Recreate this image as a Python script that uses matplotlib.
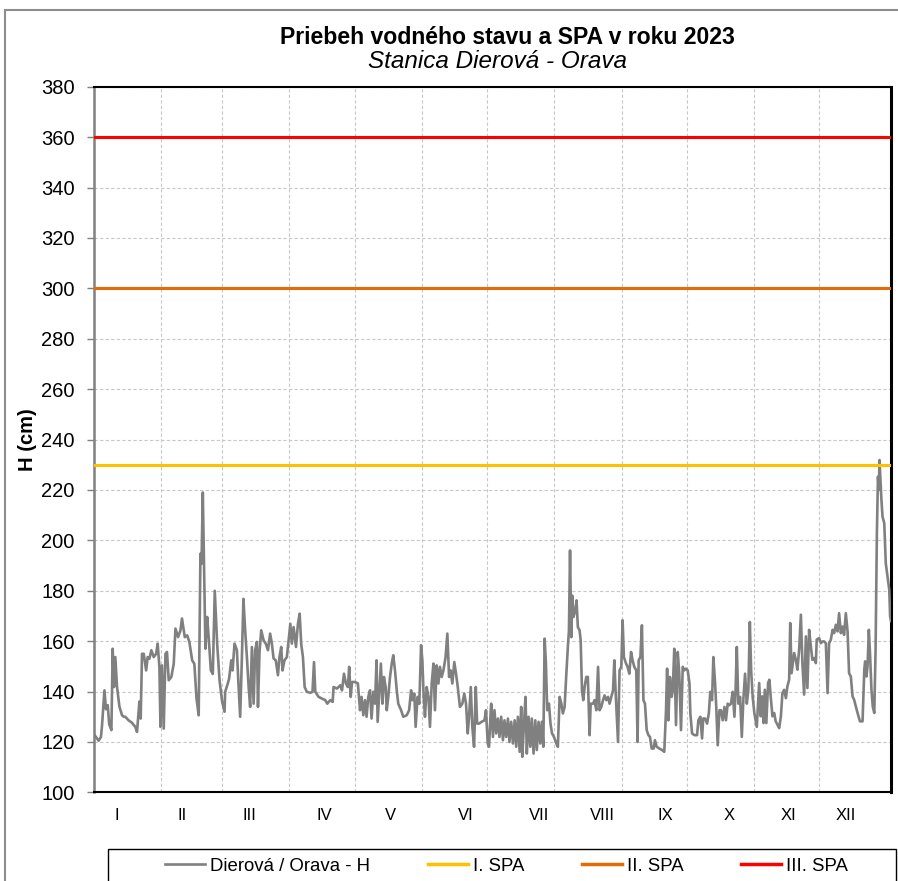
import matplotlib
matplotlib.use("Agg")
import matplotlib.pyplot as plt
from matplotlib.patches import Rectangle
from matplotlib.lines import Line2D

plt.rcParams['font.family'] = ['Liberation Sans', 'DejaVu Sans']

# day of year 2023 (0 = 1 Jan) and water level H (cm)
days = [
    0.3, 2.1, 3.2, 3.7, 4.8, 5.5, 6.3, 7.0, 8.0, 8.6, 9.2, 9.8, 10.6, 11.7, 12.9, 13.7, 14.4, 15.9, 17.5, 19.0,
    19.8, 20.9, 21.5, 22.1, 22.9, 24.0, 24.7, 25.5, 26.4, 27.5, 28.6, 29.3, 30.1, 30.6, 31.3, 32.1, 32.9, 33.6,
    34.4, 35.6, 36.7, 37.5, 38.7, 39.8, 40.5, 41.8, 42.9, 43.9, 45.2, 46.2, 47.2, 48.2, 49.0, 49.5, 50.1, 50.7,
    51.3, 52.1, 52.8, 53.8, 54.7, 55.6, 56.7, 57.8, 59.0, 60.1,
    60.4, 61.6, 62.2, 63.2, 63.8, 64.7, 65.8, 66.5, 67.3, 68.1, 68.8, 69.6, 70.4, 71.2, 71.9, 72.7, 73.5, 74.2,
    75.0, 75.5, 76.2, 77.0, 78.1, 79.1, 80.1, 81.1, 81.9, 82.7, 83.7, 84.7, 85.4, 86.2, 86.8, 87.7, 88.8, 89.6,
    90.4, 91.1, 91.9, 93.0, 93.9, 94.7, 95.4, 96.2, 97.0, 98.0, 99.6, 100.6, 101.3, 101.9, 103.4, 105.0, 106.5,
    107.4, 108.8, 109.9, 110.3, 111.9, 113.4, 114.2, 115.1, 116.0, 116.9, 117.5, 118.2, 118.8, 120.3, 121.5,
    122.5, 123.2, 124.0, 124.8, 125.5, 126.3, 127.1, 127.8, 128.6, 129.4, 130.1, 130.6, 131.4, 132.1, 132.8,
    133.5, 134.3, 134.8, 135.5, 136.3, 137.1, 137.8, 138.6, 139.4, 140.1, 141.4, 142.4, 144.0, 145.1, 146.0,
    146.7, 147.5, 148.1, 149.0, 149.8, 150.6, 151.2, 151.8, 152.4, 153.2, 154.0, 154.7, 155.5, 156.3, 157.0,
    157.8, 158.6, 159.3, 160.1, 160.9, 161.9, 162.7, 163.5, 164.2, 165.0, 165.9, 166.7, 167.5, 168.5, 169.6,
    170.5, 171.3, 172.1, 172.7, 173.5, 174.2, 175.0, 175.8, 176.4, 177.3, 178.5, 179.8, 180.5, 181.3, 181.9,
    182.7,
    182.9, 183.7, 184.4, 185.2, 186.0, 186.7, 187.5, 188.3, 189.0, 189.8, 190.6, 191.3, 192.1, 192.9, 193.7,
    194.4, 195.2, 196.0, 196.7, 197.2, 198.0, 198.7, 199.3, 200.1, 200.9, 201.6, 202.4, 203.2, 203.9, 204.7,
    205.5, 206.2, 206.9, 207.5, 208.1, 208.7, 209.5, 210.2, 210.9, 211.8, 212.9, 213.6, 214.4, 215.2, 215.9,
    216.7, 217.5, 218.2, 218.7, 219.2, 219.8, 220.2, 220.8, 221.6, 222.2, 222.8, 223.6, 224.1, 224.7, 225.3,
    225.9, 226.7, 227.4, 228.2, 228.7, 229.8, 230.5, 231.3, 232.1, 232.8, 233.6, 234.4, 235.1, 235.9, 236.7,
    237.4, 238.2, 239.0, 239.6, 240.3, 241.3, 242.0, 242.8, 243.4, 244.0,
    245.0, 245.7, 246.5, 247.3, 248.0, 248.8, 249.7, 250.3, 250.8, 251.6, 252.3, 253.0, 253.7, 254.5, 255.3,
    256.0, 256.8, 257.7, 258.3, 259.1, 260.3, 261.6, 262.6, 263.4, 263.9, 264.5, 265.2, 266.0, 266.5, 267.2,
    268.0, 268.8, 269.5, 270.3, 271.1, 271.8, 272.6, 273.4, 274.2, 274.6, 275.4, 276.5, 277.7, 278.3, 279.2,
    280.0, 280.5, 281.4, 282.3, 283.1, 283.8, 284.6, 285.2, 286.0, 286.6, 287.2, 288.0, 288.7, 289.5, 290.3,
    291.0, 291.8, 292.6, 293.3, 294.1, 294.9, 295.4, 296.0, 296.7, 297.5, 298.3, 299.0, 299.8, 300.6, 301.3,
    302.0, 302.6, 303.3, 304.1, 305.2,
    306.3, 307.0, 307.7, 308.3, 308.9, 309.6, 310.4, 311.0, 311.6, 312.4, 313.2, 313.9, 314.7, 315.5, 316.3,
    317.0, 317.8, 318.6, 319.3, 320.1, 320.6, 321.2, 321.8, 322.4, 323.2, 323.9, 324.7, 325.5, 326.2, 327.0,
    327.8, 328.5, 329.3, 330.1, 330.8, 331.6, 332.4, 332.8, 333.9, 334.7, 335.5, 336.2, 337.0, 337.8, 338.5,
    339.3, 340.1, 340.8, 341.6, 342.4, 343.1, 343.9, 344.7, 345.4, 346.2, 347.0, 347.7, 348.5, 349.3, 350.0,
    350.8, 351.6, 352.7, 353.9, 354.7, 355.1, 355.7, 356.2, 356.8, 357.4, 358.0, 358.6, 359.3, 359.9, 360.5,
    361.0, 361.4, 361.7, 362.2, 362.6, 363.1, 363.9, 364.6, 365.4, 366.2, 366.6, 367.0,
]
level = [
    122.7, 120.5, 122, 126.7, 140.5, 133, 134.6, 127, 124.7, 157, 141.8, 153.7, 141.8, 134, 130.6, 130, 130,
    128.6, 127.6, 126, 124, 136, 129.3, 155, 155, 148.4, 153.7, 153, 156.4, 153.7, 155, 159, 149.8, 126, 150.4,
    125.3, 155, 155.7, 144.5, 145.8, 151, 165, 161.6, 164.3, 169, 161.6, 162.3, 159.7, 152.4, 151, 137.2,
    130.6, 194.7, 190.7, 219, 188, 157, 169.6, 161.6, 148.4, 147, 180, 159, 144.5, 136, 132,
    139.9, 143.2, 145.1, 152.4, 148.4, 159, 156.4, 143.2, 130, 153.7, 176.8, 164.3, 153.7, 141.8, 133.9,
    157.7, 135.2, 156.4, 159.7, 133.9, 155.7, 164.3, 160.3, 159, 156.4, 163, 159, 153.1, 152.4, 146.5, 153.7,
    157.7, 148.4, 152.4, 153.7, 160.3, 166.9, 159, 165.6, 157.7, 166.9, 170.9, 159, 153.7, 141.8, 139.9,
    139.5, 139.9, 151.7, 139.9, 137.9, 137.2, 136.6, 135.2, 136.6, 135.9, 141.8, 141.2, 142.5, 140.5, 147.1,
    143.2, 141.8, 149.8, 137.9, 143.8, 143.8, 143.2,
    132.6, 137.9, 130.6, 136.6, 130, 137.9, 140.5, 129.3, 139.9, 135.2, 152.4, 128, 140.5, 151.1, 135.2,
    145.8, 141.8, 132.6, 137.9, 145.8, 151.1, 154.4, 148.4, 140.5, 135.2, 132.6, 130, 130.6, 132.6, 140.5,
    136.6, 139.2, 126, 137.9, 135.2, 158.4, 152.4, 137.9, 130, 141.8, 137.9, 126, 143.2, 151.1, 132.6,
    150.4, 143.2, 149.8, 145.8, 148.4, 153.7, 163, 145.8, 148.4, 143.2, 151.7, 147.1, 141.8, 133.9, 135.2,
    139.2, 135.2, 123.4, 130, 141.8, 126, 118.1, 141.8, 127.3, 127.3, 128, 128.6, 132.6, 119.4, 118.1,
    132.6,
    135.2, 122, 132.6, 123.4, 129.3, 122, 130, 120.7, 128.6, 122, 129.3, 120, 128, 119.4, 128.6,
    118.1, 130, 116.1, 133.9, 114.1, 127.3, 137.9, 115.4, 130, 118.1, 129.3, 115.4, 128.6, 116.8, 128,
    119.4, 128, 118.1, 161, 151.1, 132.6, 135.2, 127.3, 123.4, 122, 119.4, 118.1, 137.9, 135.2, 131.3,
    133.9, 147.1, 157.7, 164.3, 196, 161.6, 178.1, 169.6, 172.2, 176.2, 165.6, 164.3, 160.3, 140.5, 136.6,
    141.8, 145.8, 145.8, 122.7, 135.2, 135.2, 136.6, 132.6, 149.8, 132.6, 133.9, 136.6, 138.5, 136.6, 137.9,
    135.2, 137.9, 140.5, 152.4, 137.9, 120, 148.4, 149.8, 168.3, 153.7,
    151.1, 149.8, 147.1, 155.7, 152.4, 149.8, 148.4, 120, 152.4, 153.7, 166.3, 136.6, 135.2, 124.7, 122.7,
    122, 117.4, 117.4, 120.7, 118.1, 117.4, 116.8, 116.1, 132.6, 149.1, 128.6, 145.8, 137.9, 140.5, 157,
    126.7, 155.7, 147.1, 124.7, 149.8, 148.4, 149.1, 148.4, 143.2, 131.3, 123.4, 122.7, 122.7, 128.6, 130,
    121.4, 129.3, 129.3, 127.3, 131.3, 139.9, 136.6, 153.7, 143.2, 132.6, 118.7, 132.6, 132.6, 128.6, 133.9,
    128.6, 135.2, 134.6, 135.2, 139.9, 130, 139.9, 157.7, 135.2, 137.9, 122, 136.6, 147.1, 135.2, 140.5,
    167.6, 148.4, 137.9, 131.3, 126,
    143.4, 130.2, 138.1, 127.5, 140.7, 127.5, 143.4, 144.7, 138.1, 130.2, 131.5, 128.2, 126.9, 125.5, 130.2,
    139.4, 140.7, 137.4, 142.1, 144.7, 167.2, 147.3, 151.3, 155.3, 152.6, 148.7, 156.6, 170.5, 151.3, 138.8,
    161.9, 141.4, 164.5, 157.9, 152.6, 153.3, 151.3, 160.6, 161.2, 159.2, 159.9, 159.9, 159.2, 139.4, 159.2,
    160.6, 164.5, 163.2, 166.5, 163.9, 171.1, 163.2, 165.8, 162.5, 171.1, 163.9, 147.3, 146, 138.1, 136.8,
    134.1, 131.5, 128.2, 128.2, 148.7, 152, 146, 150, 164.5, 153.9, 140.7, 134.1, 131.5, 156.6, 202.8,
    225.3, 220, 231.9, 222.6, 216, 209.4, 206.8, 190.9, 185.7, 180.4, 169.8, 168,
]

spa_levels = [230, 300, 360]
spa_names = ["I. SPA", "II. SPA", "III. SPA"]
spa_colors = ["#FFC000", "#E36C09", "#FF0000"]

month_starts = [31, 59, 90, 120, 151, 181, 212, 243, 273, 304, 334]
month_names = ["I", "II", "III", "IV", "V", "VI", "VII", "VIII", "IX", "X", "XI", "XII"]
month_label_pos = [10.4, 40.4, 71.6, 105.9, 136.3, 171.3, 204.9, 233.9, 262.9, 292.4, 319.6, 346.3]

fig = plt.figure(figsize=(8.98, 8.81), dpi=100)
ax = fig.add_axes([0.1047, 0.1006, 0.8875, 0.8009])

ax.plot(days, level, color="#808080", lw=1.9, zorder=3)
for lev, col in zip(spa_levels, spa_colors):
    ax.axhline(lev, color=col, lw=2.2, zorder=4)

ax.set_xlim(0, 367)
ax.set_ylim(100, 380)
ax.set_yticks(range(100, 381, 20))
ax.set_xticks(month_label_pos)
ax.set_xticklabels(month_names)
ax.set_xticks(month_starts, minor=True)
ax.tick_params(axis="x", which="both", length=0, pad=11, labelsize=12)
ax.tick_params(axis="y", length=5, color="#808080", width=1, labelsize=14.5, pad=9)
ax.grid(True, axis="y", ls=(0, (3, 2)), color="#C8C8C8", lw=0.8)
ax.grid(True, axis="x", which="minor", ls=(0, (3, 2)), color="#C8C8C8", lw=0.8)
ax.set_axisbelow(True)

for side in ["top", "bottom", "right"]:
    ax.spines[side].set_color("black")
    ax.spines[side].set_linewidth(1.5)
ax.spines["right"].set_linewidth(2.2)
ax.spines["left"].set_color("#808080")
ax.spines["left"].set_linewidth(1.8)

ax.set_ylabel("H (cm)", fontsize=14.5, fontweight="bold", labelpad=3)

fig.text(507 / 898, 1 - 37 / 881, "Priebeh vodného stavu a SPA v roku 2023",
         ha="center", va="center", fontsize=16.6, fontweight="bold")
fig.text(497 / 898, 1 - 62 / 881, "Stanica Dierová - Orava",
         ha="center", va="center", fontsize=17.5, style="italic")

# chart area border and legend box (both cut off by the image edge)
fig.add_artist(Rectangle((5 / 898, -0.5), 2, 0.5 + 1 - 10 / 881, transform=fig.transFigure,
                         fill=False, edgecolor="#8C8C8C", lw=1.5))
fig.add_artist(Rectangle((108 / 898, -0.1), 0.8775, 0.1 + 1 - 849 / 881, transform=fig.transFigure,
                         fill=False, edgecolor="black", lw=1))

handles = [Line2D([], [], color="#808080", lw=1.9)]
handles += [Line2D([], [], color=c, lw=2.5) for c in spa_colors]
labels = ["Dierová / Orava - H"] + spa_names
fig.legend(handles, labels, loc="center left", bbox_to_anchor=(165 / 898, 1 - 866 / 881),
           ncol=4, frameon=False, fontsize=13.4, handlelength=2.15, handletextpad=0.27,
           columnspacing=3.1, borderpad=0, borderaxespad=0)

fig.savefig("out.png", dpi=100)
